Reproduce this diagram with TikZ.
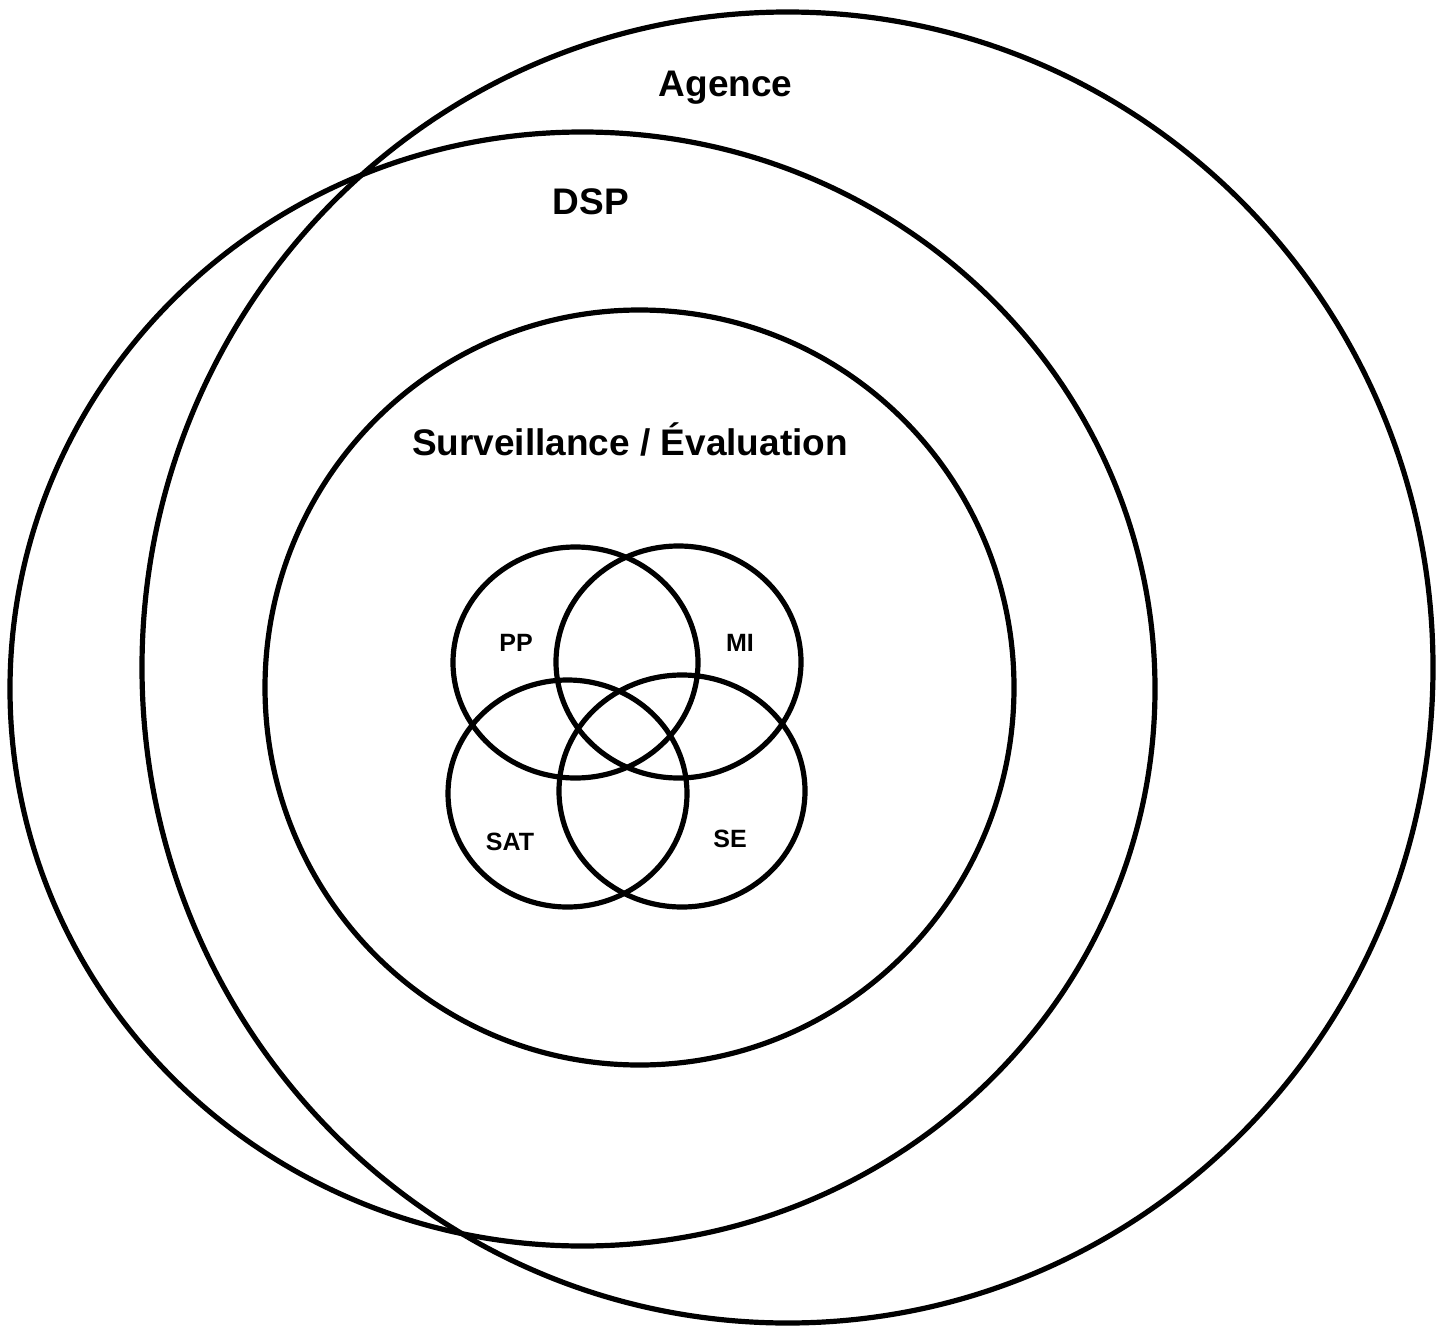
\documentclass[tikz,border=0pt]{standalone}
\usepackage{fontspec}
\setmainfont{Liberation Sans}
\begin{document}
\begin{tikzpicture}[x=1pt,y=-1pt,
  ring/.style={draw=black,line width=5.2pt},
  biglabel/.style={font=\bfseries\fontsize{37}{44}\selectfont,anchor=base,inner sep=0pt},
  smalllabel/.style={font=\bfseries\fontsize{25}{30}\selectfont,anchor=base,inner sep=0pt}]
\useasboundingbox[fill=white] (0,0) rectangle (1443,1327);
% large ellipses
\draw[ring] (787.5,667.5) ellipse [x radius=645.5pt, y radius=655.5pt];
\draw[ring] (582.5,689) ellipse [x radius=572.5pt, y radius=557pt];
\draw[ring] (639.5,687.5) ellipse [x radius=374.5pt, y radius=377.5pt];
% Venn ellipses
\draw[ring] (575.5,662.5) ellipse [x radius=122.5pt, y radius=115.5pt];
\draw[ring] (678.5,662) ellipse [x radius=122.5pt, y radius=116pt];
\draw[ring] (567.5,793.5) ellipse [x radius=119.5pt, y radius=113.5pt];
\draw[ring] (682,791) ellipse [x radius=123pt, y radius=116pt];
% labels
\node[biglabel] (agence) at (725.5,97) {Agence};
\node[biglabel] (dsp) at (591,214) {DSP};
\node[biglabel] (surv) at (630,455) {Surveillance / Évaluation};
\node[smalllabel] (pp) at (516,651) {PP};
\node[smalllabel] (mi) at (740,651) {MI};
\node[smalllabel] (sat) at (510,850) {SAT};
\node[smalllabel] (se) at (730,847) {SE};
\end{tikzpicture}
\end{document}
